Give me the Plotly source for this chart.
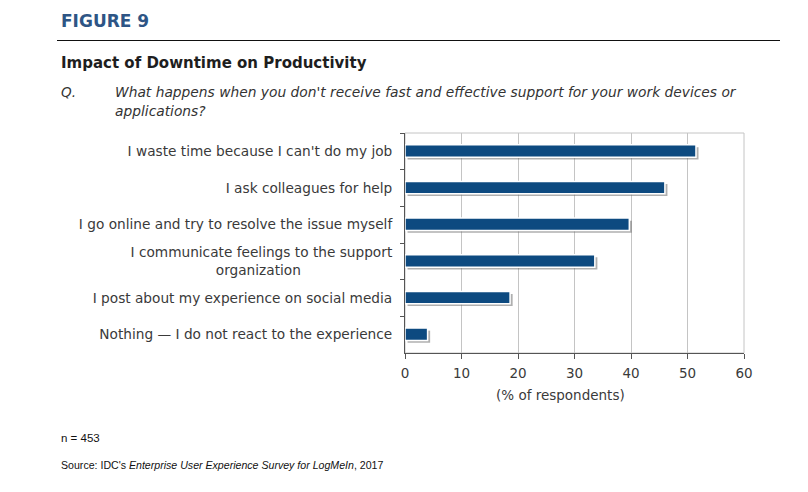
import plotly.graph_objects as go

categories = [
    "I waste time because I can't do my job",
    "I ask colleagues for help",
    "I go online and try to resolve the issue myself",
    "I communicate feelings to the support<br>organization" + "\u00a0" * 21,
    "I post about my experience on social media",
    "Nothing \u2014 I do not react to the experience",
]
values = [51.5, 46.0, 39.7, 33.6, 18.6, 4.0]
x_ticks = [0, 10, 20, 30, 40, 50, 60]

W, H = 808, 492
L, R, T, B = 405, 64, 133, 139

fig = go.Figure()
# soft shadow
fig.add_trace(go.Bar(
    y=categories, x=values, orientation="h", base=0.45,
    marker=dict(color="rgba(110,110,110,0.55)", line=dict(width=0)),
    width=0.33, offset=-0.11, hoverinfo="skip", showlegend=False,
))
fig.add_trace(go.Bar(
    y=categories, x=values, orientation="h",
    marker=dict(color="#0d4a80", line=dict(color="white", width=1.5)),
    width=0.34, offset=-0.18, showlegend=False,
))

fig.update_layout(
    width=W, height=H,
    margin=dict(l=L, r=R, t=T, b=B, pad=0),
    paper_bgcolor="white", plot_bgcolor="white",
    barmode="overlay",
    font=dict(family="DejaVu Sans", color="#3a3a3a"),
    xaxis=dict(
        range=[0, 60], tickvals=x_ticks, showgrid=True, gridcolor="#c4c4c4", gridwidth=1,
        zeroline=False, showline=True, linecolor="#555555", linewidth=1,
        ticks="outside", ticklen=5, tickcolor="#555555", ticklabelstandoff=3,
        tickfont=dict(size=13.5, color="#3a3a3a"), fixedrange=True,
    ),
    yaxis=dict(
        categoryorder="array", categoryarray=categories, autorange="reversed",
        showline=True, linecolor="#555555", linewidth=1, tickson="boundaries",
        ticks="outside", ticklen=4, tickcolor="#555555", showgrid=False,
        tickfont=dict(size=13.7, color="#3a3a3a"), ticklabelstandoff=9,
    ),
    shapes=[
        dict(type="rect", xref="paper", yref="paper", x0=0, x1=1, y0=0, y1=1,
             line=dict(color="#c4c4c4", width=1), layer="below"),
        dict(type="line", xref="paper", yref="paper",
             x0=(57 - L) / (W - L - R), x1=(780 - L) / (W - L - R),
             y0=(H - B - 40.5) / (H - T - B), y1=(H - B - 40.5) / (H - T - B),
             line=dict(color="#111111", width=1)),
    ],
)

def px_x(x):
    return (x - L) / (W - L - R)

def px_y(y):
    return (H - B - y) / (H - T - B)

annos = [
    dict(text="<b>FIGURE 9</b>", x=px_x(59), y=px_y(21), xanchor="left", yanchor="middle",
         font=dict(family="DejaVu Sans", size=17, color="#2e5585")),
    dict(text="<b>Impact of Downtime on Productivity</b>", x=px_x(59), y=px_y(63), xanchor="left",
         yanchor="middle", font=dict(family="DejaVu Sans", size=15, color="#1e1e1e")),
    dict(text="<i>Q.</i>", x=px_x(59), y=px_y(92), xanchor="left", yanchor="middle",
         font=dict(family="DejaVu Sans", size=13.5, color="#333333")),
    dict(text="<i>What happens when you don't receive fast and effective support for your work devices or</i>",
         x=px_x(113), y=px_y(92), xanchor="left", yanchor="middle",
         font=dict(family="DejaVu Sans", size=13.8, color="#333333")),
    dict(text="<i>applications?</i>", x=px_x(113), y=px_y(111), xanchor="left", yanchor="middle",
         font=dict(family="DejaVu Sans", size=13.8, color="#333333")),
    dict(text="(% of respondents)", x=px_x(560), y=px_y(395), xanchor="center", yanchor="middle",
         font=dict(family="DejaVu Sans", size=13.5, color="#3a3a3a")),
    dict(text="n = 453", x=px_x(59), y=px_y(438), xanchor="left", yanchor="middle",
         font=dict(family="Liberation Sans", size=11.5, color="#111111")),
    dict(text="Source: IDC's <i>Enterprise User Experience Survey for LogMeIn</i>, 2017",
         x=px_x(59), y=px_y(465), xanchor="left", yanchor="middle",
         font=dict(family="Liberation Sans", size=10.6, color="#111111")),
]
for a in annos:
    a.update(xref="paper", yref="paper", showarrow=False)
fig.update_layout(annotations=annos)

fig.write_html("out.html")
